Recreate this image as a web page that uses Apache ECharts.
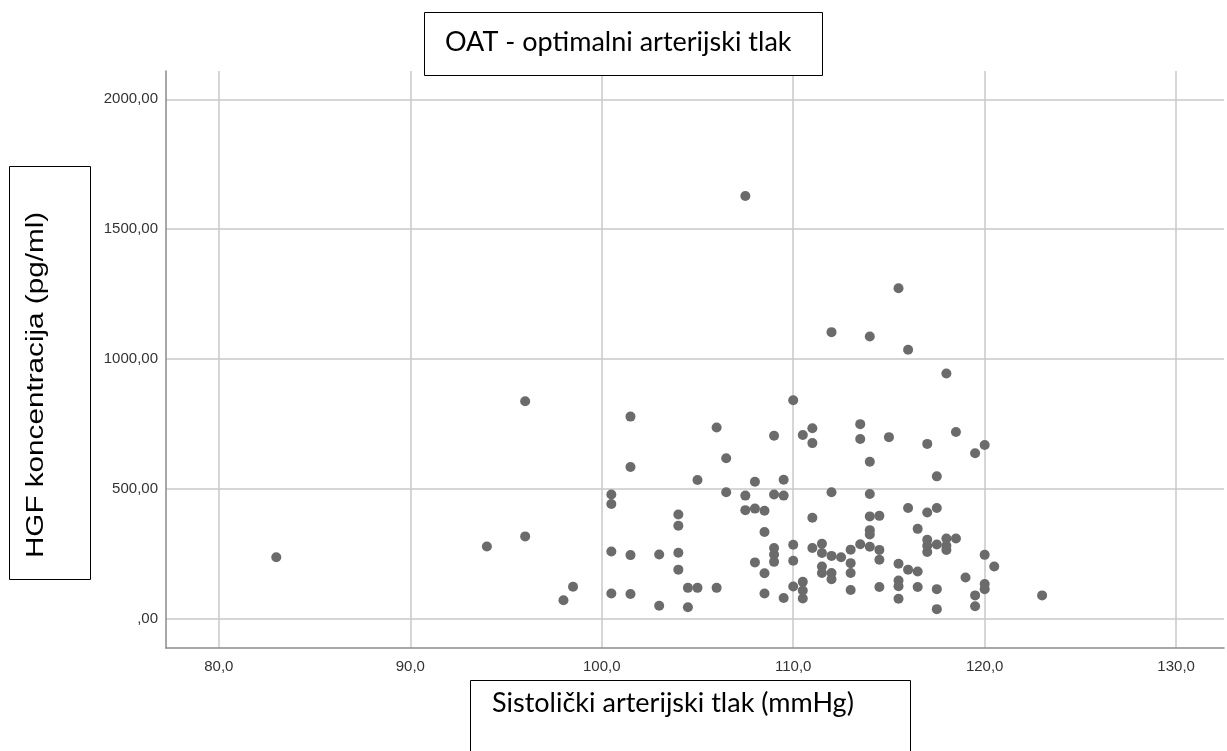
<!DOCTYPE html>
<html>
<head>
<meta charset="utf-8">
<script src="https://cdn.jsdelivr.net/npm/echarts@6/dist/echarts.min.js"></script>
<style>
html,body{margin:0;padding:0;background:#fff;}
#chart{width:1227px;height:751px;}
</style>
</head>
<body>
<div id="chart"></div>
<script>
// Systolic pressure (mmHg)
const sbp = [
  83, 94, 96, 96,
  98, 98.5,
  100.5, 100.5, 100.5, 100.5,
  101.5, 101.5, 101.5, 101.5,
  103, 103,
  104, 104, 104, 104,
  104.5, 104.5,
  105, 105,
  106, 106,
  106.5, 106.5,
  107.5, 107.5, 107.5,
  108, 108, 108,
  108.5, 108.5, 108.5, 108.5,
  109, 109, 109, 109, 109,
  109.5, 109.5, 109.5,
  110, 110, 110, 110,
  110.5, 110.5, 110.5, 110.5,
  111, 111, 111, 111,
  111.5, 111.5, 111.5, 111.5,
  112, 112, 112, 112, 112,
  112.5,
  113, 113, 113, 113,
  113.5, 113.5, 113.5,
  114, 114, 114, 114, 114, 114, 114,
  114.5, 114.5, 114.5, 114.5,
  115,
  115.5, 115.5, 115.5, 115.5, 115.5,
  116, 116, 116,
  116.5, 116.5, 116.5,
  117, 117, 117, 117, 117,
  117.5, 117.5, 117.5, 117.5, 117.5,
  118, 118, 118, 118,
  118.5, 118.5,
  119,
  119.5, 119.5, 119.5,
  120, 120, 120, 120,
  120.5,
  123
];
// HGF concentration (pg/ml)
const hgf = [
  238, 279, 318, 838,
  72, 124,
  479, 443, 260, 98,
  779, 585, 246, 96,
  248, 51,
  402, 359, 255, 190,
  120, 45,
  535, 120,
  737, 120,
  619, 488,
  1628, 475, 419,
  528, 425, 218,
  417, 335, 176, 98,
  705, 479, 273, 248, 220,
  536, 475, 81,
  842, 286, 224, 125,
  708, 143, 110, 79,
  734, 677, 390, 273,
  290, 254, 202, 177,
  1104, 488, 243, 177, 153,
  238,
  267, 215, 177, 112,
  750, 693, 288,
  1087, 605, 481, 395, 342, 325, 278,
  397, 266, 228, 123,
  700,
  1273, 213, 148, 126, 78,
  1036, 427, 190,
  347, 183, 123,
  674, 410, 305, 282, 258,
  549, 427, 287, 115, 38,
  945, 310, 282, 266,
  720, 310,
  160,
  638, 91, 49,
  670, 247, 135, 115,
  202,
  91
];
const xTickValues = [80, 90, 100, 110, 120, 130];
const xTickLabels = ['80,0', '90,0', '100,0', '110,0', '120,0', '130,0'];
const yTickValues = [0, 500, 1000, 1500, 2000];
const yTickLabels = [',00', '500,00', '1000,00', '1500,00', '2000,00'];

const titleText = 'OAT - optimalni arterijski tlak';
const xTitle = 'Sistolički arterijski tlak (mmHg)';
const yTitle = 'HGF koncentracija (pg/ml)';

const points = sbp.map((x, i) => [x, hgf[i]]);

function lookup(vals, labels, v) {
  for (let i = 0; i < vals.length; i++) {
    if (Math.abs(vals[i] - v) < 1e-6) return labels[i];
  }
  return '';
}

const chart = echarts.init(document.getElementById('chart'), null, {renderer: 'canvas'});
chart.setOption({
  animation: false,
  backgroundColor: '#ffffff',
  grid: {left: 166, top: 71, right: 0, bottom: 103, containLabel: false},
  xAxis: {
    type: 'value',
    min: 77.24,
    max: 132.5,
    minInterval: 10,
    maxInterval: 10,
    axisLine: {show: true, onZero: false, lineStyle: {color: '#8a8a8a', width: 1.5}},
    axisTick: {show: false},
    axisLabel: {
      margin: 11,
      fontSize: 15,
      fontFamily: 'Liberation Sans',
      color: '#333333',
      formatter: v => lookup(xTickValues, xTickLabels, v)
    },
    splitLine: {show: true, showMinLine: false, showMaxLine: false, lineStyle: {color: '#c8c8c8', width: 1.5}}
  },
  yAxis: {
    type: 'value',
    min: -111.5,
    max: 2109,
    minInterval: 500,
    maxInterval: 500,
    axisLine: {show: true, onZero: false, lineStyle: {color: '#8a8a8a', width: 1.5}},
    axisTick: {show: false},
    axisLabel: {
      margin: 8,
      fontSize: 15,
      fontFamily: 'Liberation Sans',
      color: '#333333',
      formatter: v => lookup(yTickValues, yTickLabels, v)
    },
    splitLine: {show: true, showMinLine: false, showMaxLine: false, lineStyle: {color: '#c8c8c8', width: 1.5}}
  },
  series: [{
    type: 'scatter',
    data: points,
    symbol: 'circle',
    symbolSize: 10,
    itemStyle: {color: '#6b6b6b', opacity: 1},
    silent: true
  }],
  graphic: [
    {type: 'rect', z: 100, shape: {x: 424.5, y: 12.5, width: 398, height: 63},
     style: {fill: '#ffffff', stroke: '#000000', lineWidth: 1}},
    {type: 'text', z: 101, x: 445, y: 42,
     style: {text: titleText, fontSize: 27, fontFamily: 'Lato', fill: '#000000', textAlign: 'left', textVerticalAlign: 'middle'}},
    {type: 'rect', z: 100, shape: {x: 9.5, y: 166.5, width: 81, height: 413},
     style: {fill: '#ffffff', stroke: '#000000', lineWidth: 1}},
    {type: 'text', z: 101, x: 36.5, y: 385, rotation: Math.PI / 2, scaleX: 1.29,
     style: {text: yTitle, fontSize: 23, fontFamily: 'Liberation Sans', fill: '#000000', textAlign: 'center', textVerticalAlign: 'middle'}},
    {type: 'rect', z: 100, shape: {x: 470.5, y: 680.5, width: 440, height: 90},
     style: {fill: '#ffffff', stroke: '#000000', lineWidth: 1}},
    {type: 'text', z: 101, x: 492, y: 703,
     style: {text: xTitle, fontSize: 27, fontFamily: 'Lato', fill: '#000000', textAlign: 'left', textVerticalAlign: 'middle'}}
  ]
});
</script>
</body>
</html>
